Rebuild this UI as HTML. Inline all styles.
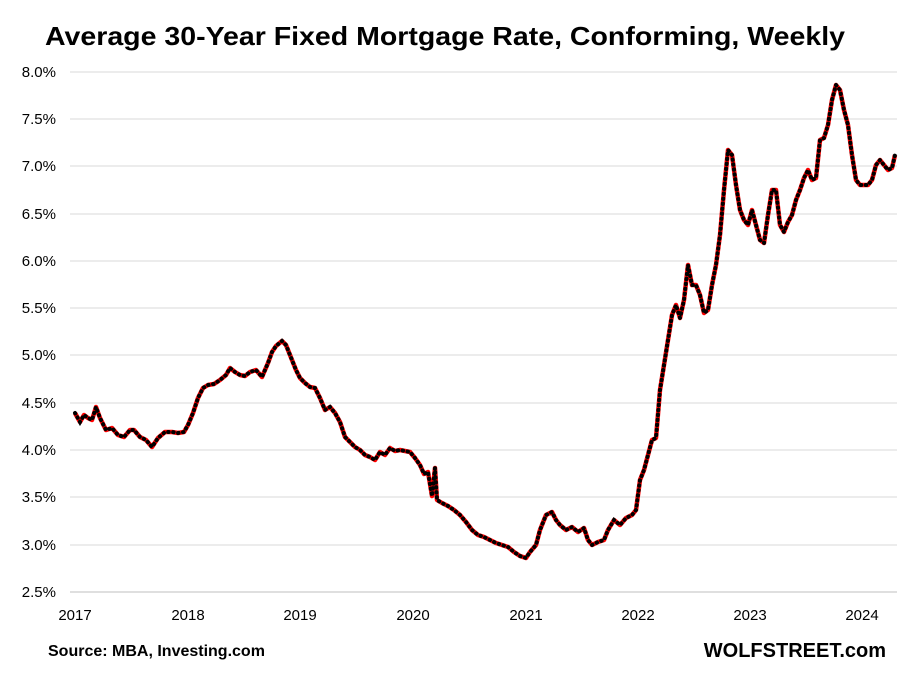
<!DOCTYPE html>
<html><head><meta charset="utf-8"><style>
html,body{margin:0;padding:0;background:#fff;}
svg{display:block;font-family:"Liberation Sans",sans-serif;}
</style></head><body>
<svg width="900" height="675" viewBox="0 0 900 675" xmlns="http://www.w3.org/2000/svg">
<defs>
<polyline id="p" fill="none" points="75,413 80,422 84,415 88,418 92,420 96,407 100,418 106,430 112,428 118,435 124,437 130,430 134,430 140,437 146,440 152,447 158,438 165,432 172,432 178,433 184,432 188,425 193,413 198,398 203,388 208,385 214,384 220,380 226,375 230,368 235,372 240,375 245,376 250,372 256,370 262,377 268,363 272,352 276,346 282,341 286,345 290,355 296,370 300,378 305,383 310,387 315,388 320,398 325,410 330,407 335,413 340,422 345,437 350,442 355,447 360,450 365,455 370,457 375,460 380,452 385,455 390,448 395,451 400,450 405,451 410,452 415,458 420,465 424,474 428,472 432,496 435,468 437,500 442,503 448,506 454,510 460,515 466,522 472,530 478,535 484,537 490,540 496,543 502,545 508,547 514,552 520,556 526,558 530,552 536,545 540,530 546,515 552,512 556,520 560,525 566,530 572,527 578,532 584,528 588,540 592,545 598,542 604,540 608,530 614,520 620,525 626,518 632,515 636,510 640,480 644,470 648,455 652,440 656,438 660,390 664,365 668,340 672,315 676,305 680,318 684,300 688,265 692,285 696,285 700,295 704,313 708,310 712,285 716,265 720,235 724,190 728,150 732,155 736,185 740,210 744,220 748,225 752,210 756,225 760,240 764,243 768,215 772,190 776,190 780,225 784,232 788,222 792,215 796,200 800,190 804,178 808,170 812,180 816,178 820,140 824,138 828,125 832,100 836,85 840,90 844,110 848,125 852,155 856,180 860,185 864,185 868,185 872,180 876,165 880,160 884,165 888,170 892,168 895,155"/>
</defs>
<rect width="900" height="675" fill="#fff"/>
<text x="45" y="45" font-size="26" font-weight="bold" textLength="800" lengthAdjust="spacingAndGlyphs" fill="#000">Average 30-Year Fixed Mortgage Rate, Conforming, Weekly</text>
<g stroke="#d9d9d9" stroke-width="1">
<line x1="70" x2="897" y1="72" y2="72"/><line x1="70" x2="897" y1="119" y2="119"/>
<line x1="70" x2="897" y1="166" y2="166"/><line x1="70" x2="897" y1="214" y2="214"/>
<line x1="70" x2="897" y1="261" y2="261"/><line x1="70" x2="897" y1="308" y2="308"/>
<line x1="70" x2="897" y1="355" y2="355"/><line x1="70" x2="897" y1="403" y2="403"/>
<line x1="70" x2="897" y1="450" y2="450"/><line x1="70" x2="897" y1="497" y2="497"/>
<line x1="70" x2="897" y1="545" y2="545"/>
</g>
<line x1="70" x2="897" y1="592" y2="592" stroke="#bfbfbf" stroke-width="1"/>
<g font-size="15" fill="#000" text-anchor="end">
<text x="56" y="77">8.0%</text><text x="56" y="124">7.5%</text><text x="56" y="171">7.0%</text>
<text x="56" y="219">6.5%</text><text x="56" y="266">6.0%</text><text x="56" y="313">5.5%</text>
<text x="56" y="360">5.0%</text><text x="56" y="408">4.5%</text><text x="56" y="455">4.0%</text>
<text x="56" y="502">3.5%</text><text x="56" y="550">3.0%</text><text x="56" y="597">2.5%</text>
</g>
<g font-size="15" fill="#000" text-anchor="middle">
<text x="75" y="620">2017</text><text x="188" y="620">2018</text><text x="300" y="620">2019</text>
<text x="413" y="620">2020</text><text x="526" y="620">2021</text><text x="638" y="620">2022</text>
<text x="750" y="620">2023</text><text x="862" y="620">2024</text>
</g>
<use href="#p" stroke="#ff0000" stroke-width="4.5" stroke-linejoin="round"/>
<use href="#p" stroke="#000" stroke-width="4" stroke-dasharray="0.5 4.5" stroke-linecap="round"/>
<text x="48" y="656" font-size="16" font-weight="bold" fill="#000">Source: MBA, Investing.com</text>
<text x="886" y="657" font-size="20" font-weight="bold" fill="#000" text-anchor="end">WOLFSTREET.com</text>
</svg>
</body></html>
